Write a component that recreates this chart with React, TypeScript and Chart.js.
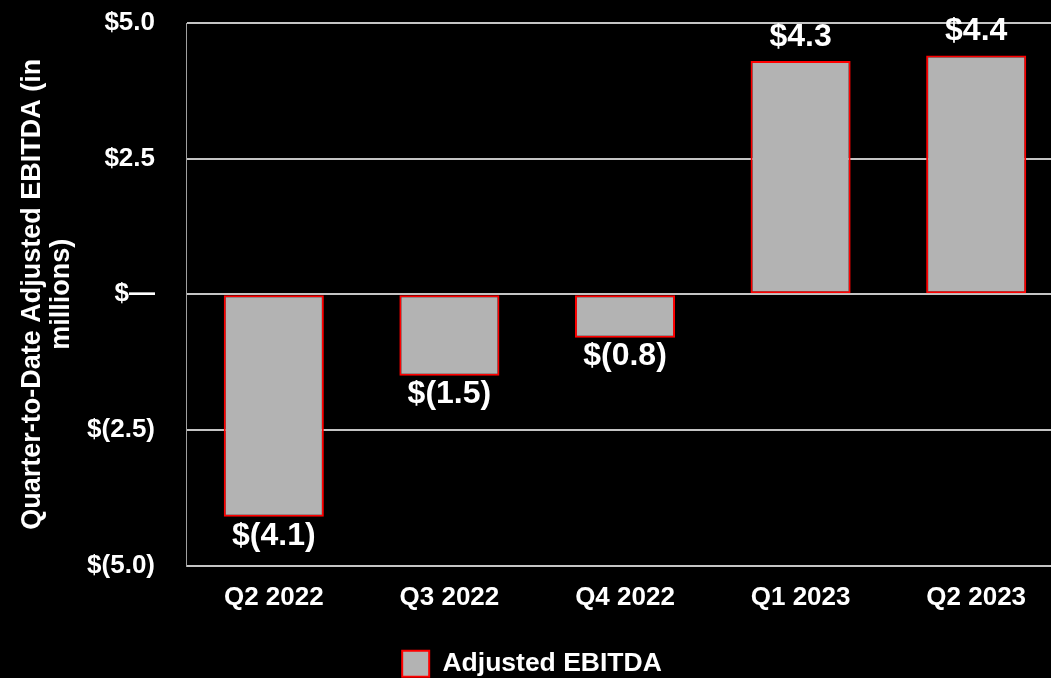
import React, { useEffect, useRef } from "react";
import { Chart, registerables } from "chart.js";

Chart.register(...registerables);

const categories = ["Q2 2022", "Q3 2022", "Q4 2022", "Q1 2023", "Q2 2023"];
const ebitda = [-4.1, -1.5, -0.8, 4.3, 4.4];
const seriesName = "Adjusted EBITDA";
const yTitle = ["Quarter-to-Date Adjusted EBITDA (in", "millions)"];
const yMin = -5;
const yMax = 5;
const yStep = 2.5;

const FONT = "'Liberation Sans', Arial, sans-serif";

function fmt(v: number): string {
  if (Math.abs(v) < 1e-9) return "$\u2014";
  if (v < 0) return `$(${Math.abs(v).toFixed(1)})`;
  return `$${v.toFixed(1)}`;
}

const valueLabels = {
  id: "valueLabels",
  afterDatasetsDraw(chart: any) {
    const ctx = chart.ctx;
    const meta = chart.getDatasetMeta(0);
    const data = chart.data.datasets[0].data as number[];
    ctx.save();
    ctx.font = `bold 32px ${FONT}`;
    ctx.fillStyle = "#ffffff";
    ctx.textAlign = "center";
    ctx.textBaseline = "middle";
    meta.data.forEach((el: any, i: number) => {
      const v = data[i];
      const y = v >= 0 ? el.y - 24 : el.y + 19;
      ctx.fillText(fmt(v), el.x, y);
    });
    ctx.restore();
  },
};

export default function App() {
  const ref = useRef<HTMLCanvasElement | null>(null);

  useEffect(() => {
    if (!ref.current) return;
    const chart = new Chart(ref.current, {
      type: "bar",
      data: {
        labels: categories,
        datasets: [
          {
            label: seriesName,
            data: ebitda,
            backgroundColor: "#b3b3b3",
            borderColor: "#ff0000",
            borderWidth: 2,
            borderSkipped: false,
            categoryPercentage: 1,
            barPercentage: 0.57,
          },
        ],
      },
      options: {
        animation: false,
        responsive: true,
        maintainAspectRatio: false,
        layout: { padding: { top: 23, left: 0, right: 0, bottom: 0 } },
        plugins: {
          legend: {
            position: "bottom",
            labels: {
              color: "#ffffff",
              font: { family: FONT, size: 26.5, weight: "bold" },
              boxWidth: 27,
              boxHeight: 26,
              padding: 10,
            },
          },
          tooltip: { enabled: false },
        },
        scales: {
          x: {
            grid: { display: false, drawTicks: false },
            border: { display: false },
            ticks: {
              color: "#ffffff",
              font: { family: FONT, size: 26, weight: "bold" },
              padding: 17,
            },
            afterFit(scale: any) {
              scale.height = 75;
            },
          },
          y: {
            min: yMin,
            max: yMax,
            grid: {
              color: "#c4c4c4",
              lineWidth: 2,
              drawTicks: true,
              tickLength: 31,
              tickColor: "rgba(0,0,0,0)",
            },
            border: { display: true, color: "#a0a0a0", width: 1 },
            ticks: {
              stepSize: yStep,
              color: "#ffffff",
              font: { family: FONT, size: 26, weight: "bold" },
              padding: 0,
              callback: (v: any) => fmt(Number(v)),
            },
            title: {
              display: true,
              text: yTitle,
              color: "#ffffff",
              font: { family: FONT, size: 27, weight: "bold", lineHeight: 1.08 },
              padding: { top: 18, bottom: 0 },
            },
            afterFit(scale: any) {
              scale.width = 186;
            },
          },
        },
      },
      plugins: [valueLabels],
    });
    return () => chart.destroy();
  }, []);

  return (
    <div
      style={{
        position: "fixed",
        left: 0,
        top: 0,
        width: 1051,
        height: 678,
        overflow: "hidden",
        background: "#000000",
      }}
    >
      <div style={{ position: "relative", width: 1064, height: 687 }}>
        <canvas ref={ref} />
      </div>
    </div>
  );
}
